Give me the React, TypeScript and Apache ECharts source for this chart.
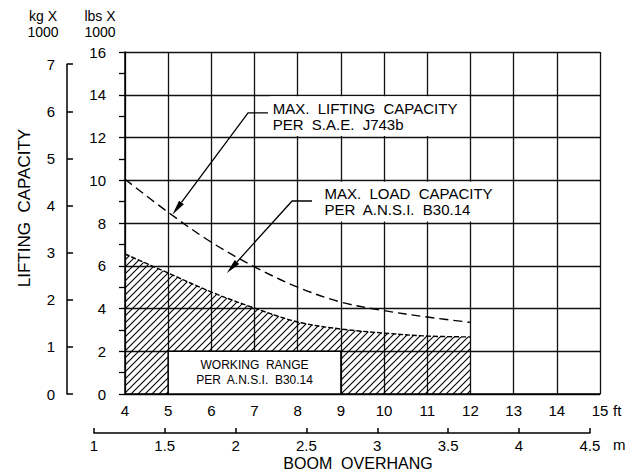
import React, { useEffect, useRef } from "react";
import * as echarts from "echarts";

// ---- data ----
const boomFeet = [4, 5, 6, 7, 8, 9, 10, 11, 12];
// MAX. LIFTING CAPACITY PER S.A.E. J743b  (lbs x 1000)
const liftingCapacity = [10.05, 8.5, 7.1, 5.95, 5.0, 4.3, 3.9, 3.6, 3.35];
// MAX. LOAD CAPACITY PER A.N.S.I. B30.14 (lbs x 1000) – hatched working range
const loadCapacity = [6.55, 5.66, 4.77, 4.02, 3.37, 3.04, 2.85, 2.71, 2.67];

const ftRange = [4, 15];
const lbsRange = [0, 16];
const kgRange = [0, 7];
const mRange = [1, 4.5];
const LB_PER_KG = 2.20462;
const FT_PER_M = 1 / 0.3048;

// annotation boxes (data coords: ft, lbs)
const workingRangeBox = [[5, 0], [9, 2]];
const saeNoteBox = [[7.35, 12.07], [11.95, 13.93]];
const ansiNoteBox = [[8.55, 8.07], [12.95, 9.93]];
const saeLeader = [[7.31, 13.15], [6.85, 13.15], [5.1, 8.4]];
const ansiLeader = [[8.33, 9.03], [7.87, 9.03], [6.36, 5.66]];

const W = 639;
const H = 473;
const FONT = "Liberation Sans";

export default function App() {
  const ref = useRef<HTMLDivElement>(null);

  useEffect(() => {
    document.body.style.margin = "0";
    const chart = echarts.init(ref.current!, null, { renderer: "svg" });

    const G = { left: 125, right: 39, top: 52, bottom: 79 };
    const pxPerFt = (W - G.left - G.right) / (ftRange[1] - ftRange[0]);
    const pxPerLb = (H - G.top - G.bottom) / (lbsRange[1] - lbsRange[0]);
    const kgTop = H - G.bottom - kgRange[1] * pxPerLb * LB_PER_KG;
    const xOfFt = (ft: number) => G.left + (ft - ftRange[0]) * pxPerFt;
    const mLeft = xOfFt(mRange[0] * FT_PER_M);
    const mRight = W - xOfFt(mRange[1] * FT_PER_M);

    // hatch pattern
    const tile = 7;
    const cv = document.createElement("canvas");
    cv.width = tile;
    cv.height = tile;
    const ctx = cv.getContext("2d")!;
    ctx.strokeStyle = "#000";
    ctx.lineWidth = 1.1;
    ctx.beginPath();
    ctx.moveTo(-1, tile + 1);
    ctx.lineTo(tile + 1, -1);
    ctx.moveTo(-2, 2);
    ctx.lineTo(2, -2);
    ctx.moveTo(tile - 2, tile + 2);
    ctx.lineTo(tile + 2, tile - 2);
    ctx.stroke();

    const gridLine = { color: "#111", width: 1.3 };
    const axisLine = { lineStyle: { color: "#000", width: 1.5 } };
    const labelBase = { color: "#000", fontFamily: FONT, fontSize: 15 };

    const option: any = {
      animation: false,
      grid: [
        { left: G.left, right: G.right, top: G.top, bottom: G.bottom },
        { left: 67, width: 10, top: kgTop, bottom: G.bottom },
        { left: mLeft, right: mRight, top: 423, bottom: 40 },
      ],
      xAxis: [
        {
          gridIndex: 0,
          type: "value",
          min: ftRange[0],
          max: ftRange[1],
          interval: 1,
          axisLine: { show: true, ...axisLine },
          axisTick: { show: false },
          splitLine: { show: true, lineStyle: gridLine },
          axisLabel: { ...labelBase, margin: 9 },
        },
        { gridIndex: 1, type: "value", show: false },
        {
          gridIndex: 2,
          type: "value",
          position: "bottom",
          min: mRange[0],
          max: mRange[1],
          interval: 0.5,
          axisLine: { show: true, ...axisLine },
          axisTick: { show: true, inside: true, length: 5, lineStyle: { color: "#000", width: 1.5 } },
          splitLine: { show: false },
          axisLabel: { ...labelBase, margin: 5 },
        },
      ],
      yAxis: [
        {
          gridIndex: 0,
          type: "value",
          min: lbsRange[0],
          max: lbsRange[1],
          interval: 2,
          axisLine: { show: true, ...axisLine },
          axisTick: { show: true, length: 6, lineStyle: { color: "#000", width: 1.3 } },
          minorTick: { show: true, splitNumber: 2, length: 6, lineStyle: { color: "#000", width: 1.3 } },
          splitLine: { show: true, lineStyle: gridLine },
          axisLabel: { ...labelBase, margin: 19 },
        },
        {
          gridIndex: 1,
          type: "value",
          position: "left",
          min: kgRange[0],
          max: kgRange[1],
          interval: 1,
          axisLine: { show: true, ...axisLine },
          axisTick: { show: true, inside: true, length: 6, lineStyle: { color: "#000", width: 1.5 } },
          splitLine: { show: false },
          axisLabel: { ...labelBase, margin: 12 },
        },
        { gridIndex: 2, type: "value", show: false },
      ],
      series: [
        {
          name: "MAX. LOAD CAPACITY",
          type: "line",
          xAxisIndex: 0,
          yAxisIndex: 0,
          data: boomFeet.map((f, i) => [f, loadCapacity[i]]),
          smooth: 0.35,
          symbol: "none",
          silent: true,
          z: 2,
          lineStyle: { color: "#000", width: 1.4, type: [5, 2] },
          areaStyle: { color: { image: cv, repeat: "repeat" }, opacity: 1 },
          markArea: {
            silent: true,
            z: 5,
            data: [
              [
                {
                  coord: workingRangeBox[0],
                  itemStyle: { color: "#fff", borderColor: "#000", borderWidth: 1.5 },
                  label: {
                    show: true,
                    position: "inside",
                    formatter: "WORKING  RANGE\nPER  A.N.S.I.  B30.14",
                    color: "#000",
                    fontFamily: FONT,
                    fontSize: 12,
                    lineHeight: 15,
                    align: "center",
                  },
                },
                { coord: workingRangeBox[1] },
              ],
              [
                {
                  coord: saeNoteBox[0],
                  itemStyle: { color: "#fff", borderWidth: 0 },
                  label: {
                    show: true,
                    position: "insideLeft",
                    distance: 3,
                    formatter: "MAX.  LIFTING  CAPACITY\nPER  S.A.E.  J743b",
                    color: "#000",
                    fontFamily: FONT,
                    fontSize: 15,
                    lineHeight: 16,
                    align: "left",
                  },
                },
                { coord: saeNoteBox[1] },
              ],
              [
                {
                  coord: ansiNoteBox[0],
                  itemStyle: { color: "#fff", borderWidth: 0 },
                  label: {
                    show: true,
                    position: "insideLeft",
                    distance: 3,
                    formatter: "MAX.  LOAD  CAPACITY\nPER  A.N.S.I.  B30.14",
                    color: "#000",
                    fontFamily: FONT,
                    fontSize: 15,
                    lineHeight: 16,
                    align: "left",
                  },
                },
                { coord: ansiNoteBox[1] },
              ],
            ],
          },
        },
        {
          name: "MAX. LIFTING CAPACITY",
          type: "line",
          xAxisIndex: 0,
          yAxisIndex: 0,
          data: boomFeet.map((f, i) => [f, liftingCapacity[i]]),
          smooth: 0.35,
          symbol: "none",
          silent: true,
          z: 3,
          lineStyle: { color: "#000", width: 1.4, type: [9, 5] },
        },
      ],
    };

    chart.setOption(option);

    const px = (p: number[]) => chart.convertToPixel({ gridIndex: 0 }, p) as number[];
    const leader = (pts: number[][]) => {
      const p = pts.map(px);
      const T = p[p.length - 1];
      const P = p[p.length - 2];
      const dx = T[0] - P[0];
      const dy = T[1] - P[1];
      const L = Math.hypot(dx, dy);
      const ux = dx / L;
      const uy = dy / L;
      const bx = T[0] - ux * 15;
      const by = T[1] - uy * 15;
      const nx = -uy;
      const ny = ux;
      return [
        {
          type: "polyline",
          z: 20,
          shape: { points: p.slice(0, -1).concat([[bx, by]]) },
          style: { stroke: "#000", lineWidth: 1.3 },
        },
        {
          type: "polygon",
          z: 20,
          shape: { points: [T, [bx + nx * 3, by + ny * 3], [bx - nx * 3, by - ny * 3]] },
          style: { fill: "#000" },
        },
      ];
    };

    const txt = (text: string, x: number, y: number, size: number, extra: any = {}) => ({
      type: "text",
      x,
      y,
      z: 20,
      ...extra,
      style: {
        text,
        fill: "#000",
        fontFamily: FONT,
        fontSize: size,
        align: extra.align || "center",
        verticalAlign: "middle",
        lineHeight: 16,
      },
    });

    chart.setOption({
      graphic: [
        ...leader(saeLeader),
        ...leader(ansiLeader),
        txt("kg X\n1000", 43, 24, 14),
        txt("lbs X\n1000", 100, 24, 14),
        txt("LIFTING  CAPACITY", 24, 208, 17, { rotation: Math.PI / 2 }),
        txt("BOOM  OVERHANG", 358, 463, 16),
        txt("ft", 613, 410, 15, { align: "left" }),
        txt("m", 613, 444, 15, { align: "left" }),
      ],
    });

    return () => chart.dispose();
  }, []);

  return <div ref={ref} style={{ width: W, height: H, background: "#fff" }} />;
}
